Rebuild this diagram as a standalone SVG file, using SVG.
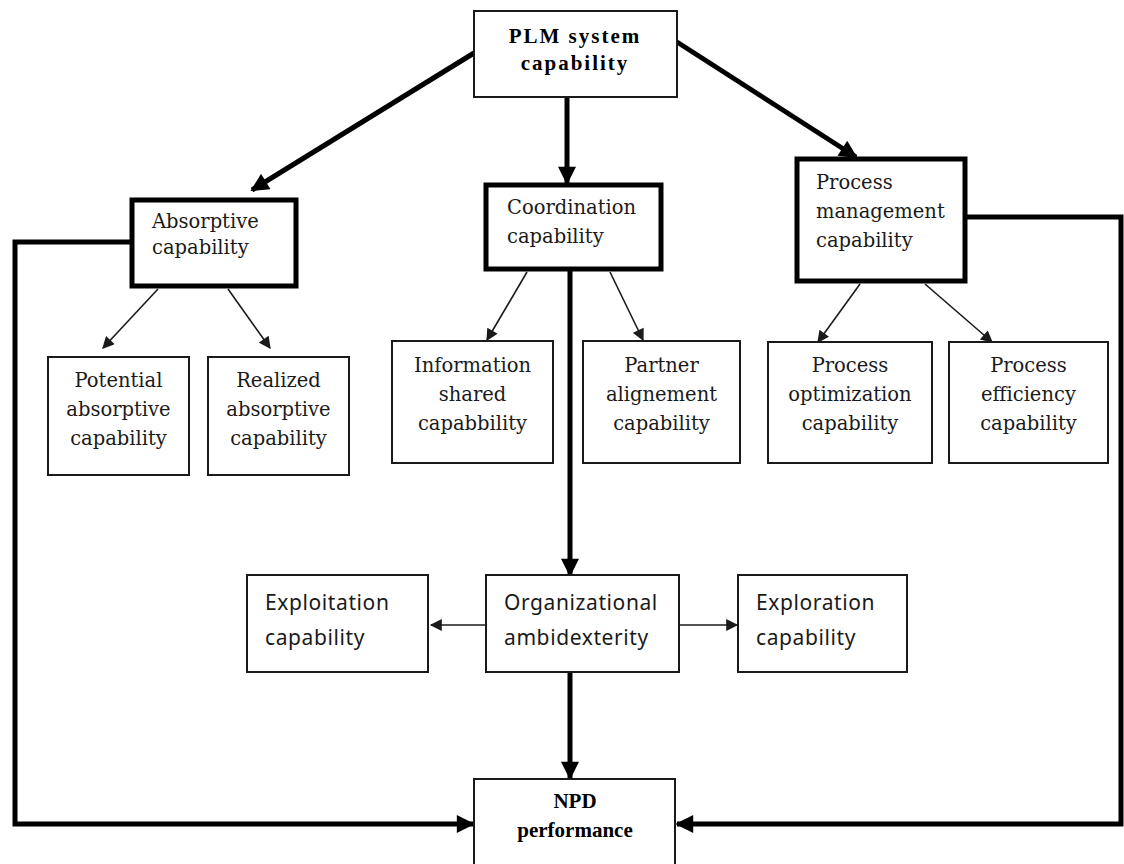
<svg xmlns="http://www.w3.org/2000/svg" width="1124" height="864" viewBox="0 0 1124 864">
  <style>
    .box { fill: #ffffff; stroke: #1a1a1a; stroke-width: 2; }
    .bold-box { fill: #ffffff; stroke: #000000; stroke-width: 5; }
    .serif { font-family: "DejaVu Serif", "Liberation Serif", serif; font-size: 19.5px; fill: #1a1a1a; }
    .serif-b { font-family: "Liberation Serif", "DejaVu Serif", serif; font-weight: bold; font-size: 21px; fill: #000; }
    .wide { letter-spacing: 2px; }
    .sans { font-family: "Noto Sans", "Open Sans", sans-serif; font-size: 21px; letter-spacing: 0.6px; fill: #1a1a1a; }
    .mid { text-anchor: middle; }
    .thick { stroke: #000; stroke-width: 5; fill: none; }
    .thin { stroke: #1a1a1a; stroke-width: 1.6; fill: none; }
  </style>
  <defs>
    <marker id="headBig" viewBox="0 0 10 10" refX="9" refY="5" markerUnits="userSpaceOnUse" markerWidth="20" markerHeight="18" orient="auto">
      <path d="M0,0 L10,5 L0,10 Z" fill="#000"/>
    </marker>
    <marker id="headSmall" viewBox="0 0 10 10" refX="9" refY="5" markerUnits="userSpaceOnUse" markerWidth="14" markerHeight="12" orient="auto">
      <path d="M0,0 L10,5 L0,10 Z" fill="#1a1a1a"/>
    </marker>
  </defs>

  <g id="connectors">
    <!-- thick links from the PLM box -->
    <line class="thick" x1="474" y1="53" x2="252" y2="190" marker-end="url(#headBig)"/>
    <line class="thick" x1="567" y1="97" x2="567" y2="183" marker-end="url(#headBig)"/>
    <line class="thick" x1="677" y1="42" x2="856" y2="157" marker-end="url(#headBig)"/>
    <!-- coordination down to ambidexterity, then to NPD -->
    <line class="thick" x1="570" y1="270" x2="570" y2="575" marker-end="url(#headBig)"/>
    <line class="thick" x1="570" y1="672" x2="570" y2="778" marker-end="url(#headBig)"/>
    <!-- side loops into NPD performance -->
    <polyline class="thick" points="130,242 15,242 15,824 473,824" marker-end="url(#headBig)"/>
    <polyline class="thick" points="967,217 1121,217 1121,824 677,824" marker-end="url(#headBig)"/>
    <!-- thin links to sub-capabilities -->
    <line class="thin" x1="158" y1="289" x2="103" y2="348" marker-end="url(#headSmall)"/>
    <line class="thin" x1="228" y1="289" x2="270" y2="348" marker-end="url(#headSmall)"/>
    <line class="thin" x1="527" y1="272" x2="487" y2="340" marker-end="url(#headSmall)"/>
    <line class="thin" x1="610" y1="272" x2="643" y2="340" marker-end="url(#headSmall)"/>
    <line class="thin" x1="860" y1="284" x2="818" y2="342" marker-end="url(#headSmall)"/>
    <line class="thin" x1="925" y1="284" x2="992" y2="342" marker-end="url(#headSmall)"/>
    <!-- ambidexterity to its two sides -->
    <line class="thin" x1="486" y1="625" x2="431" y2="625" marker-end="url(#headSmall)"/>
    <line class="thin" x1="679" y1="625" x2="737" y2="625" marker-end="url(#headSmall)"/>
  </g>

  <g id="plm">
    <rect class="box" x="474" y="11" width="203" height="86"/>
    <text class="serif-b wide mid" x="575" y="43">PLM system</text>
    <text class="serif-b wide mid" x="575" y="70">capability</text>
  </g>

  <g id="absorptive">
    <rect class="bold-box" x="132" y="200" width="164" height="86"/>
    <text class="serif" x="152" y="228">Absorptive</text>
    <text class="serif" x="152" y="254">capability</text>
  </g>

  <g id="coordination">
    <rect class="bold-box" x="486" y="185" width="175" height="84"/>
    <text class="serif" x="507" y="214">Coordination</text>
    <text class="serif" x="507" y="243">capability</text>
  </g>

  <g id="process-management">
    <rect class="bold-box" x="797" y="159" width="168" height="122"/>
    <text class="serif" x="816" y="189">Process</text>
    <text class="serif" x="816" y="218">management</text>
    <text class="serif" x="816" y="247">capability</text>
  </g>

  <g id="potential">
    <rect class="box" x="48" y="357" width="141" height="118"/>
    <text class="serif mid" x="118.5" y="387">Potential</text>
    <text class="serif mid" x="118.5" y="416">absorptive</text>
    <text class="serif mid" x="118.5" y="445">capability</text>
  </g>

  <g id="realized">
    <rect class="box" x="208" y="357" width="141" height="118"/>
    <text class="serif mid" x="278.5" y="387">Realized</text>
    <text class="serif mid" x="278.5" y="416">absorptive</text>
    <text class="serif mid" x="278.5" y="445">capability</text>
  </g>

  <g id="information">
    <rect class="box" x="392" y="341" width="161" height="122"/>
    <text class="serif mid" x="472.5" y="372">Information</text>
    <text class="serif mid" x="472.5" y="401">shared</text>
    <text class="serif mid" x="472.5" y="430">capabbility</text>
  </g>

  <g id="partner">
    <rect class="box" x="583" y="341" width="157" height="122"/>
    <text class="serif mid" x="661.5" y="372">Partner</text>
    <text class="serif mid" x="661.5" y="401">alignement</text>
    <text class="serif mid" x="661.5" y="430">capability</text>
  </g>

  <g id="optimization">
    <rect class="box" x="768" y="342" width="164" height="121"/>
    <text class="serif mid" x="850" y="372">Process</text>
    <text class="serif mid" x="850" y="401">optimization</text>
    <text class="serif mid" x="850" y="430">capability</text>
  </g>

  <g id="efficiency">
    <rect class="box" x="949" y="342" width="159" height="121"/>
    <text class="serif mid" x="1028.5" y="372">Process</text>
    <text class="serif mid" x="1028.5" y="401">efficiency</text>
    <text class="serif mid" x="1028.5" y="430">capability</text>
  </g>

  <g id="exploitation">
    <rect class="box" x="247" y="575" width="181" height="97"/>
    <text class="sans" x="265" y="610">Exploitation</text>
    <text class="sans" x="265" y="645">capability</text>
  </g>

  <g id="ambidexterity">
    <rect class="box" x="486" y="575" width="193" height="97"/>
    <text class="sans" x="504" y="610">Organizational</text>
    <text class="sans" x="504" y="645">ambidexterity</text>
  </g>

  <g id="exploration">
    <rect class="box" x="738" y="575" width="169" height="97"/>
    <text class="sans" x="756" y="610">Exploration</text>
    <text class="sans" x="756" y="645">capability</text>
  </g>

  <g id="npd">
    <rect class="box" x="474" y="779" width="201" height="90"/>
    <text class="serif-b mid" x="575" y="808">NPD</text>
    <text class="serif-b mid" x="575" y="837">performance</text>
  </g>
</svg>
